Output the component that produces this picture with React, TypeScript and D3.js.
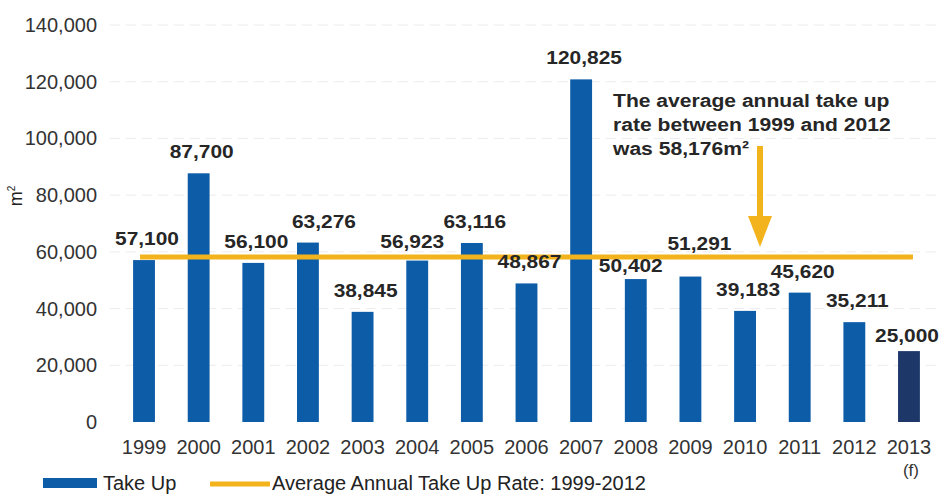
import React from "react";
import * as d3 from "d3";

const years = ["1999","2000","2001","2002","2003","2004","2005","2006","2007","2008","2009","2010","2011","2012","2013"];
const takeUp = [57100, 87700, 56100, 63276, 38845, 56923, 63116, 48867, 120825, 50402, 51291, 39183, 45620, 35211, 25000];
const forecastYear = "2013";
const averageRate = 58176;
const yTicks = [0, 20000, 40000, 60000, 80000, 100000, 120000, 140000];
const annotationLines = ["The average annual take up", "rate between 1999 and 2012", "was 58,176m²"];
const legendLabels = ["Take Up", "Average Annual Take Up Rate: 1999-2012"];

// label nudges (layout only)
const labelNudge: Record<string, [number, number]> = {
  "2002": [13, 0],
  "2004": [-8, 2],
  "2008": [-8, 8],
  "2009": [6, -12],
  "2013": [-5, 6],
};

const W = 945, H = 495;
const BLUE = "#0c5ca8";
const NAVY = "#1c3768";
const GOLD = "#f2b31c";
const FONT = "'Liberation Sans', Arial, sans-serif";

export default function App() {
  const y = d3.scaleLinear().domain([0, 140000]).range([422, 25]);
  const x = d3.scaleBand<string>().domain(years).range([116.7, 936.3]).paddingInner(0.6).paddingOuter(0.3);
  const fmt = d3.format(",");
  const bw = x.bandwidth();
  const cx = (yr: string) => x(yr)! + bw / 2;

  return (
    <svg width={W} height={H} style={{ position: "absolute", left: 0, top: 0, background: "#fff" }} fontFamily={FONT}>
      {/* faint gridlines */}
      {yTicks.filter(t => t > 0).map(t => (
        <line key={"g" + t} x1={110} x2={940} y1={y(t)} y2={y(t)} stroke="#ececec" strokeWidth={1} strokeDasharray="10,6" />
      ))}
      {/* y ticks */}
      {yTicks.map(t => (
        <text key={"t" + t} x={97} y={y(t) + 7} textAnchor="end" fontSize={20} fill="#333">{fmt(t)}</text>
      ))}
      {/* y axis label */}
      <text transform="translate(22,196) rotate(-90)" textAnchor="middle" fontSize={18} fill="#222">
        m<tspan dy={-7} fontSize={10}>2</tspan>
      </text>
      {/* bars */}
      {years.map((yr, i) => (
        <rect key={"b" + yr} x={x(yr)} y={y(takeUp[i])} width={bw} height={y(0) - y(takeUp[i])} fill={yr === forecastYear ? NAVY : BLUE} />
      ))}
      {/* average line */}
      <line x1={cx(years[0]) - 4} x2={cx(years[years.length - 1]) + 4} y1={y(averageRate)} y2={y(averageRate)} stroke={GOLD} strokeWidth={5} />
      {/* value labels */}
      {years.map((yr, i) => {
        const [dx, dy] = labelNudge[yr] || [0, 0];
        return (
          <text key={"v" + yr} transform={`translate(${cx(yr) + 3 + dx},${y(takeUp[i]) - 15 + dy}) scale(1.1,1)`} textAnchor="middle" fontSize={19} fontWeight="bold" fill="#262626">
            {fmt(takeUp[i])}
          </text>
        );
      })}
      {/* x labels */}
      {years.map(yr => (
        <text key={"x" + yr} x={cx(yr)} y={454} textAnchor="middle" fontSize={20} fill="#333">{yr}</text>
      ))}
      <text x={cx(forecastYear) + 2} y={476} textAnchor="middle" fontSize={17} fill="#333">(f)</text>
      {/* annotation */}
      {annotationLines.map((l, i) => (
        <text key={"a" + i} transform={`translate(613,${107 + i * 24}) scale(1.11,1)`} fontSize={19} fontWeight="bold" fill="#262626">{l}</text>
      ))}
      {/* arrow */}
      <line x1={760} x2={760} y1={146} y2={222} stroke={GOLD} strokeWidth={6} />
      <path d="M748,216 L772,216 L760,247 Z" fill={GOLD} />
      {/* legend */}
      <rect x={43} y={478} width={54} height={10} fill={BLUE} />
      <text x={103} y={490} fontSize={20} fill="#222">{legendLabels[0]}</text>
      <line x1={210} x2={270} y1={484} y2={484} stroke={GOLD} strokeWidth={5} />
      <text x={272} y={490} fontSize={20} fill="#222">{legendLabels[1]}</text>
    </svg>
  );
}
